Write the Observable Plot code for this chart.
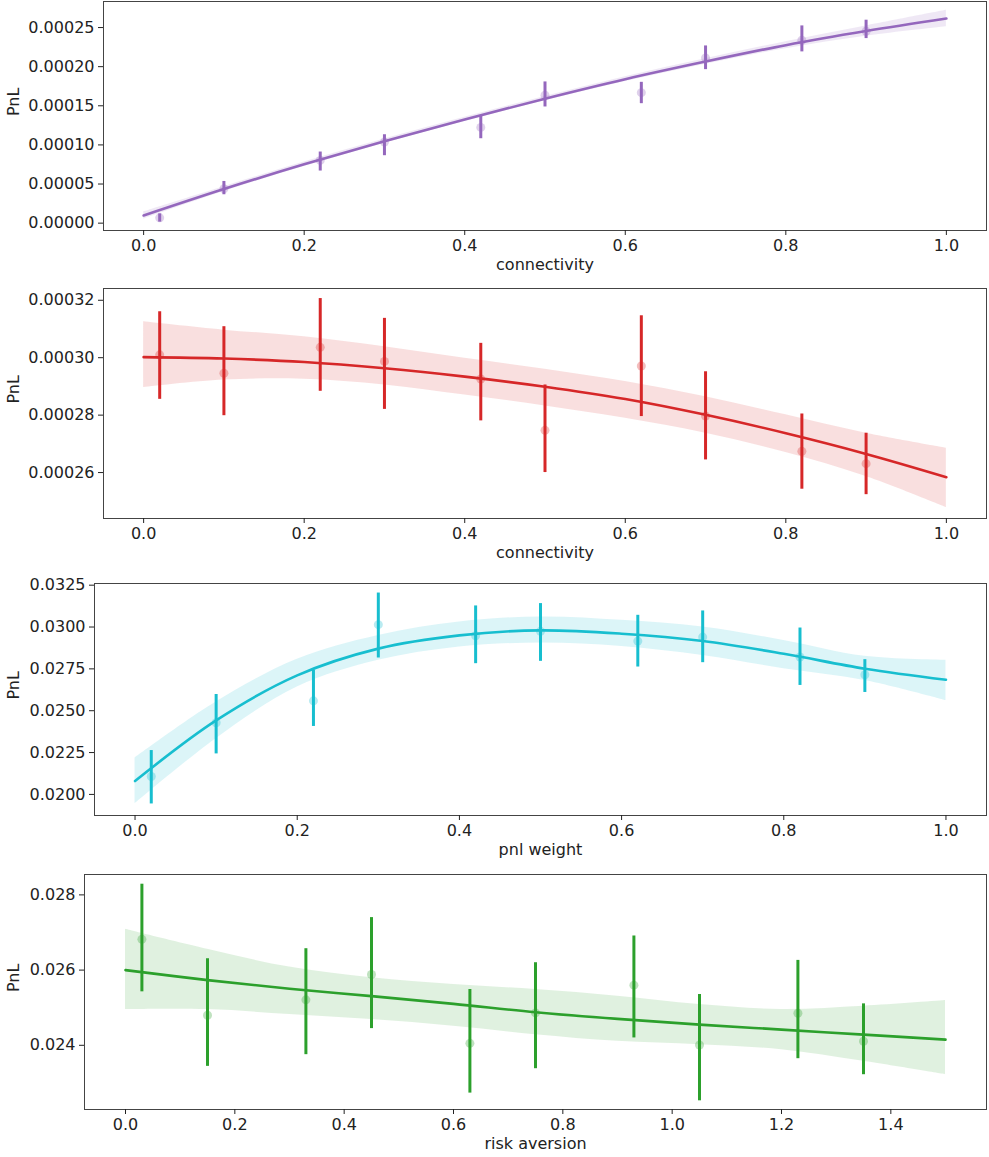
<!DOCTYPE html>
<html>
<head>
<meta charset="utf-8">
<script src="https://cdn.jsdelivr.net/npm/d3@7"></script>
<script src="https://cdn.jsdelivr.net/npm/@observablehq/plot@0.6"></script>
<style>
  html, body { margin: 0; padding: 0; background: #fff; }
  #chart { position: relative; width: 989px; height: 1157px; overflow: hidden; background: #fff; }
  #chart svg { position: absolute; left: 0; }
</style>
</head>
<body>
<div id="chart"></div>
<script>
// ---------- data ----------
const gridX = [0, 0.1, 0.2, 0.3, 0.4, 0.5, 0.6, 0.7, 0.8, 0.9, 1.0];
const binX = [0.02, 0.1, 0.22, 0.3, 0.42, 0.5, 0.62, 0.7, 0.82, 0.9];

// panel 1: connectivity (purple)
const c1Mean = [0.0000068, 0.0000439, 0.0000802, 0.0001037, 0.0001224, 0.0001634, 0.0001668, 0.0002112, 0.0002338, 0.0002453];
const c1Lo = [0.0000013, 0.0000363, 0.0000666, 0.0000862, 0.0001079, 0.0001485, 0.0001527, 0.0001962, 0.0002189, 0.0002359];
const c1Hi = [0.0000119, 0.0000533, 0.0000909, 0.000113, 0.0001365, 0.0001805, 0.00018, 0.0002265, 0.0002521, 0.0002594];
const c1Fit = [0.0000098, 0.0000436, 0.0000752, 0.0001048, 0.0001326, 0.0001591, 0.000184, 0.0002065, 0.0002275, 0.0002455, 0.0002615];
const c1BandLo = [0.0000053, 0.0000406, 0.0000724, 0.0001021, 0.0001299, 0.0001563, 0.000181, 0.000203, 0.000223, 0.000239, 0.000251];
const c1BandHi = [0.0000143, 0.0000466, 0.000078, 0.0001075, 0.0001353, 0.0001619, 0.000187, 0.00021, 0.000232, 0.000252, 0.000272];

// panel 2: connectivity (red)
const c2Mean = [0.000301, 0.0002946, 0.0003036, 0.0002987, 0.0002926, 0.0002747, 0.0002971, 0.0002797, 0.0002674, 0.0002631];
const c2Lo = [0.0002855, 0.0002798, 0.0002883, 0.000282, 0.000278, 0.00026, 0.0002795, 0.0002644, 0.0002542, 0.0002523];
const c2Hi = [0.000316, 0.0003108, 0.0003206, 0.0003137, 0.000305, 0.0002905, 0.0003146, 0.0002951, 0.0002804, 0.0002737];
const c2Fit = [0.0003002, 0.0002997, 0.0002985, 0.0002963, 0.0002934, 0.0002899, 0.0002856, 0.0002801, 0.0002737, 0.0002665, 0.0002584];
const c2BandLo = [0.0002896, 0.0002922, 0.0002925, 0.0002905, 0.000287, 0.0002832, 0.0002789, 0.0002737, 0.000267, 0.0002586, 0.0002478];
const c2BandHi = [0.0003125, 0.0003096, 0.0003073, 0.0003038, 0.0002998, 0.000296, 0.0002917, 0.0002864, 0.0002801, 0.0002737, 0.0002685];

// panel 3: pnl weight (cyan)
const p3Mean = [0.02107, 0.02428, 0.02559, 0.03014, 0.02948, 0.02974, 0.02916, 0.0294, 0.02821, 0.02715];
const p3Lo = [0.01943, 0.02242, 0.02406, 0.02815, 0.02781, 0.02795, 0.02761, 0.02787, 0.02651, 0.02609];
const p3Hi = [0.02262, 0.02597, 0.02741, 0.03203, 0.03126, 0.0314, 0.0307, 0.03096, 0.02994, 0.02805];
const p3Fit = [0.0208, 0.02442, 0.02711, 0.02871, 0.0295, 0.0298, 0.0296, 0.02916, 0.0284, 0.02751, 0.02685];
const p3BandLo = [0.01944, 0.02333, 0.02641, 0.02801, 0.02881, 0.02904, 0.02884, 0.0283, 0.02751, 0.02681, 0.02561];
const p3BandHi = [0.02217, 0.02552, 0.02807, 0.0295, 0.0303, 0.0306, 0.0304, 0.03, 0.0292, 0.02825, 0.02801];

// panel 4: risk aversion (green)
const r4GridX = [0, 0.15, 0.3, 0.45, 0.6, 0.75, 0.9, 1.05, 1.2, 1.35, 1.5];
const r4X = [0.03, 0.15, 0.33, 0.45, 0.63, 0.75, 0.93, 1.05, 1.23, 1.35];
const r4Mean = [0.026818, 0.0248, 0.025209, 0.025884, 0.024053, 0.024862, 0.0256, 0.024009, 0.024853, 0.024107];
const r4Lo = [0.025422, 0.02344, 0.023751, 0.024444, 0.022729, 0.023378, 0.024196, 0.022524, 0.023644, 0.023218];
const r4Hi = [0.028284, 0.026302, 0.026569, 0.027396, 0.025484, 0.026196, 0.026907, 0.025351, 0.026258, 0.025102];
const r4Fit = [0.026, 0.025733, 0.025502, 0.025307, 0.025102, 0.02488, 0.024702, 0.024551, 0.024418, 0.024284, 0.024151];
const r4BandLo = [0.024951, 0.024951, 0.024818, 0.024684, 0.024507, 0.024284, 0.024107, 0.024018, 0.023884, 0.023573, 0.023218];
const r4BandHi = [0.027084, 0.026551, 0.02608, 0.025796, 0.025618, 0.025484, 0.025307, 0.025084, 0.024951, 0.02504, 0.025191];

// tick labels
const xTicks01 = [0, 0.2, 0.4, 0.6, 0.8, 1.0];
const xTicks4 = [0, 0.2, 0.4, 0.6, 0.8, 1.0, 1.2, 1.4];
const yTicks1 = [0, 0.00005, 0.0001, 0.00015, 0.0002, 0.00025];
const yTicks2 = [0.00026, 0.00028, 0.0003, 0.00032];
const yTicks3 = [0.02, 0.0225, 0.025, 0.0275, 0.03, 0.0325];
const yTicks4 = [0.024, 0.026, 0.028];

const xLabels = ["connectivity", "connectivity", "pnl weight", "risk aversion"];
const yLabel = "PnL";
const colors = ["#9467bd", "#d62728", "#17becf", "#2ca02c"];

// ---------- build ----------
function table(xs, ...cols) {
  return xs.map((x, i) => {
    const o = {x};
    cols.forEach(([k, arr]) => o[k] = arr[i]);
    return o;
  });
}

const panels = [
  {top: 0, left: 103, fh: 229, xDomain: [-0.05, 1.05], yDomain: [-0.0000094, 0.0002833],
   xTicks: xTicks01, yTicks: yTicks1, yFmt: ".5f", xFmt: ".1f",
   pts: table(binX, ["m", c1Mean], ["lo", c1Lo], ["hi", c1Hi]),
   fit: table(gridX, ["f", c1Fit], ["lo", c1BandLo], ["hi", c1BandHi])},
  {top: 287, left: 103, fh: 230, xDomain: [-0.05, 1.05], yDomain: [0.000244, 0.0003241],
   xTicks: xTicks01, yTicks: yTicks2, yFmt: ".5f", xFmt: ".1f",
   pts: table(binX, ["m", c2Mean], ["lo", c2Lo], ["hi", c2Hi]),
   fit: table(gridX, ["f", c2Fit], ["lo", c2BandLo], ["hi", c2BandHi])},
  {top: 582, left: 94, fh: 232, xDomain: [-0.05, 1.05], yDomain: [0.01874, 0.0326],
   xTicks: xTicks01, yTicks: yTicks3, yFmt: ".4f", xFmt: ".1f",
   pts: table(binX, ["m", p3Mean], ["lo", p3Lo], ["hi", p3Hi]),
   fit: table(gridX, ["f", p3Fit], ["lo", p3BandLo], ["hi", p3BandHi])},
  {top: 873, left: 84, fh: 235, xDomain: [-0.075, 1.575], yDomain: [0.022293, 0.028542],
   xTicks: xTicks4, yTicks: yTicks4, yFmt: ".3f", xFmt: ".1f",
   pts: table(r4X, ["m", r4Mean], ["lo", r4Lo], ["hi", r4Hi]),
   fit: table(r4GridX, ["f", r4Fit], ["lo", r4BandLo], ["hi", r4BandHi])}
];

const chart = document.getElementById("chart");
panels.forEach((p, i) => {
  const color = colors[i];
  const mTop = 1, mBottom = 50;
  const svg = Plot.plot({
    width: 989,
    height: mTop + p.fh + mBottom,
    marginTop: mTop,
    marginBottom: mBottom,
    marginLeft: p.left,
    marginRight: 3,
    style: {fontFamily: "'DejaVu Sans', sans-serif", fontSize: "16px", color: "#222", background: "#fff", overflow: "visible"},
    x: {domain: p.xDomain},
    y: {domain: p.yDomain},
    marks: [
      Plot.areaY(p.fit, {x: "x", y1: "lo", y2: "hi", fill: color, fillOpacity: 0.15, curve: "catmull-rom"}),
      Plot.dot(p.pts, {x: "x", y: "m", r: 4.5, fill: color, fillOpacity: 0.3, stroke: "none"}),
      Plot.ruleX(p.pts, {x: "x", y1: "lo", y2: "hi", stroke: color, strokeWidth: 3}),
      Plot.lineY(p.fit, {x: "x", y: "f", stroke: color, strokeWidth: 2.6, curve: "catmull-rom"}),
      Plot.frame({stroke: "#444", strokeWidth: 1}),
      Plot.axisX({ticks: p.xTicks, tickFormat: d3.format(p.xFmt), tickSize: 5, tickPadding: 4, label: null, fontSize: 16}),
      Plot.axisY({ticks: p.yTicks, tickFormat: d3.format(p.yFmt), tickSize: 5, tickPadding: 4, label: null, fontSize: 16}),
      Plot.text([xLabels[i]], {frameAnchor: "bottom", dy: 39, fontSize: 16, fill: "#222"}),
      Plot.text([yLabel], {frameAnchor: "left", dx: 13 - p.left, rotate: -90, fontSize: 16, fill: "#222"})
    ]
  });
  svg.style.top = p.top + "px";
  chart.appendChild(svg);
});
</script>
</body>
</html>
